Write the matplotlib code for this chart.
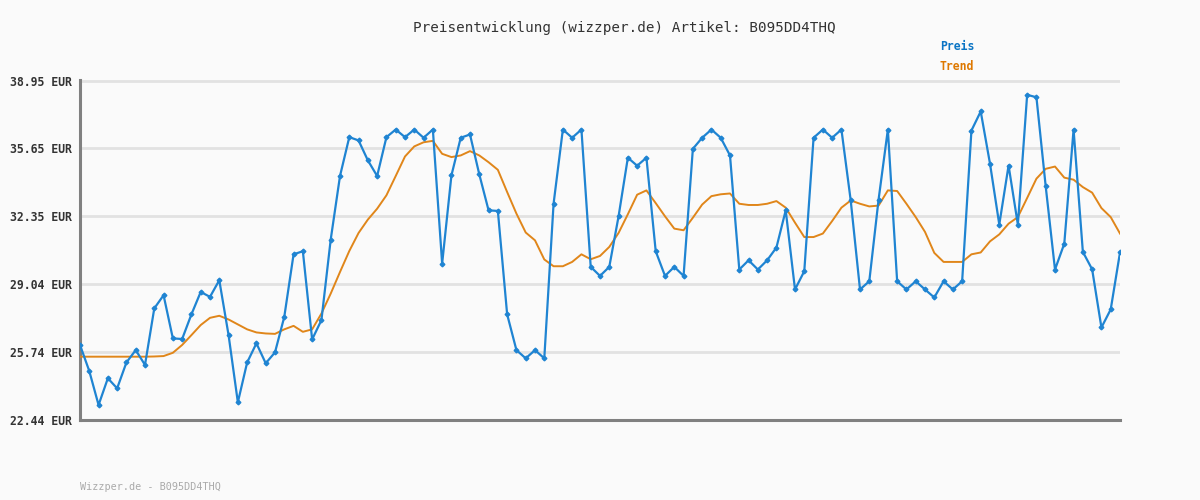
import matplotlib
matplotlib.use("Agg")
import matplotlib.pyplot as plt

title = "Preisentwicklung (wizzper.de) Artikel: B095DD4THQ"
footer = "Wizzper.de - B095DD4THQ"
ytick_values = [22.44, 25.74, 29.04, 32.35, 35.65, 38.95]
ytick_labels = ["22.44 EUR", "25.74 EUR", "29.04 EUR", "32.35 EUR", "35.65 EUR", "38.95 EUR"]

preis = [26.09, 24.82, 23.17, 24.47, 23.98, 25.24, 25.84, 25.12, 27.87, 28.51,
         26.41, 26.38, 27.58, 28.67, 28.43, 29.24, 26.57, 23.30, 25.24, 26.17,
         25.20, 25.73, 27.46, 30.50, 30.65, 26.36, 27.30, 31.22, 34.31, 36.20,
         36.04, 35.07, 34.31, 36.20, 36.57, 36.20, 36.57, 36.17, 36.57, 30.05,
         34.34, 36.17, 36.33, 34.39, 32.64, 32.61, 27.58, 25.84, 25.44, 25.84,
         25.44, 32.96, 36.57, 36.17, 36.57, 29.89, 29.45, 29.89, 32.35, 35.20,
         34.81, 35.20, 30.65, 29.45, 29.89, 29.45, 35.63, 36.17, 36.57, 36.17,
         35.31, 29.76, 30.21, 29.76, 30.21, 30.83, 32.64, 28.79, 29.68, 36.17,
         36.57, 36.17, 36.57, 33.12, 28.79, 29.19, 33.16, 36.57, 29.19, 28.79,
         29.19, 28.79, 28.40, 29.19, 28.79, 29.19, 36.52, 37.45, 34.91, 31.95,
         34.82, 31.95, 38.26, 38.14, 33.80, 29.76, 31.02, 36.57, 30.62, 29.77,
         26.94, 27.82, 30.59]

trend = [25.52, 25.52, 25.52, 25.52, 25.52, 25.52, 25.52, 25.52, 25.53, 25.55,
         25.71, 26.09, 26.57, 27.06, 27.41, 27.51, 27.33, 27.09, 26.85, 26.70,
         26.65, 26.63, 26.85, 27.02, 26.73, 26.85, 27.62, 28.59, 29.64, 30.66,
         31.54, 32.19, 32.72, 33.37, 34.31, 35.26, 35.75, 35.95, 36.02, 35.39,
         35.23, 35.31, 35.52, 35.31, 34.98, 34.61, 33.53, 32.48, 31.56, 31.18,
         30.25, 29.92, 29.92, 30.13, 30.50, 30.26, 30.42, 30.86, 31.54, 32.45,
         33.40, 33.61, 32.99, 32.35, 31.75, 31.67, 32.28, 32.92, 33.33, 33.42,
         33.46, 32.96, 32.90, 32.90, 32.96, 33.09, 32.77, 32.04, 31.34, 31.34,
         31.51, 32.12, 32.77, 33.12, 32.96, 32.83, 32.87, 33.61, 33.58, 32.96,
         32.31, 31.59, 30.57, 30.13, 30.13, 30.13, 30.50, 30.59, 31.13, 31.47,
         31.99, 32.31, 33.24, 34.18, 34.66, 34.77, 34.23, 34.13, 33.77, 33.50,
         32.75, 32.31, 31.51]

blue = "#1f84d2"
orange = "#e0861a"
bg = "#fafafa"

fig = plt.figure(figsize=(12, 5), dpi=100, facecolor=bg)
ax = fig.add_axes([80/1200, 1-420/500, 1040/1200, 340/500], facecolor=bg)

x = list(range(len(preis)))
ax.plot(x, trend, color=orange, linewidth=1.4, zorder=3)
ax.plot(x, preis, color=blue, linewidth=1.6, marker="D", markersize=2.4,
        markerfacecolor=blue, markeredgecolor=blue, zorder=4)

ax.set_xlim(0, len(preis) - 1)
ax.set_ylim(22.44, 38.95 + 0.03)
ax.set_yticks(ytick_values)
ax.set_yticklabels(ytick_labels, fontfamily="DejaVu Sans Mono", fontweight="bold",
                   fontsize=8.3, color="#333333")
ax.set_xticks([])
ax.tick_params(axis="y", length=0, pad=6)
ax.grid(axis="y", color="#e2e2e2", linewidth=2, zorder=0)
ax.set_axisbelow(True)
for s in ["top", "right"]:
    ax.spines[s].set_visible(False)
for s in ["left", "bottom"]:
    ax.spines[s].set_color("#808080")
    ax.spines[s].set_linewidth(2.2)

fig.text(624/1200, 1-28/500, title, ha="center", va="center",
         fontfamily="DejaVu Sans Mono", fontsize=10.3, color="#333333")
fig.text(940/1200, 1-47/500, "Preis", ha="left", va="center",
         fontfamily="DejaVu Sans Mono", fontweight="bold", fontsize=8.3, color="#0a74c4")
fig.text(940/1200, 1-67/500, "Trend", ha="left", va="center",
         fontfamily="DejaVu Sans Mono", fontweight="bold", fontsize=8.3, color="#de7800")
fig.text(80/1200, 1-487/500, footer, ha="left", va="center",
         fontfamily="DejaVu Sans Mono", fontsize=7.3, color="#aaaaaa")

fig.savefig("out.png", dpi=100, facecolor=bg)
